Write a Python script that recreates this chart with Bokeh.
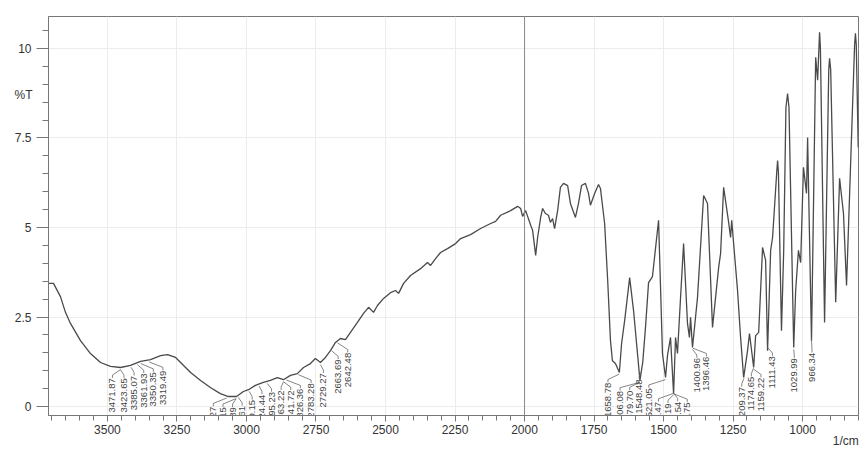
import numpy as np
from bokeh.plotting import figure
from bokeh.models import (Range1d, FixedTicker, CustomJSTickFormatter, Span, ColumnDataSource,
                          LinearAxis)
from bokeh.core.properties import value
from bokeh.embed import file_html
from bokeh.resources import INLINE

# ---- data ----
wavenumber = [3710, 3694, 3669, 3651, 3633, 3597, 3561, 3525, 3489, 3453, 3417, 3381, 3345, 3309, 3284,
              3255, 3237, 3201, 3165, 3130, 3094, 3065, 3036, 3011, 2993, 2968, 2942, 2914, 2889, 2867,
              2842, 2817, 2795, 2770, 2752, 2734, 2716, 2698, 2680, 2662, 2644, 2626, 2601, 2579, 2561,
              2543, 2529, 2507, 2482, 2464, 2453, 2435, 2410, 2374, 2349, 2338, 2320, 2302, 2277, 2248,
              2230, 2194, 2158, 2122, 2104, 2086, 2050, 2025, 2014, 2007, 1996, 1978, 1971, 1960, 1953,
              1942, 1935, 1925, 1914, 1907, 1899, 1892, 1881, 1871, 1860, 1845, 1835, 1817, 1806, 1795,
              1781, 1770, 1763, 1748, 1734, 1727, 1712, 1701, 1691, 1684, 1673, 1659, 1651, 1640, 1622,
              1608, 1585, 1575, 1565, 1554, 1540, 1518, 1504, 1493, 1486, 1475, 1464, 1457, 1450, 1439,
              1428, 1414, 1407, 1403, 1396, 1378, 1356, 1342, 1324, 1302, 1295, 1284, 1266, 1259, 1255,
              1234, 1223, 1212, 1198, 1191, 1176, 1169, 1158, 1144, 1133, 1126, 1115, 1108, 1093, 1090,
              1087, 1076, 1068, 1060, 1054, 1049, 1032, 1025, 1015, 1007, 997, 986, 982, 968, 953,
              946, 939, 936, 921, 906, 903, 899, 881, 867, 853, 842, 813, 810, 807, 800]
transmittance = [3.44, 3.44, 3.07, 2.63, 2.32, 1.84, 1.48, 1.23, 1.12, 1.09, 1.15, 1.26, 1.31, 1.42, 1.45,
                 1.37, 1.23, 0.95, 0.73, 0.53, 0.36, 0.28, 0.28, 0.42, 0.47, 0.59, 0.67, 0.73, 0.81, 0.75,
                 0.87, 0.92, 1.09, 1.20, 1.34, 1.23, 1.37, 1.56, 1.79, 1.90, 1.87, 2.07, 2.35, 2.60, 2.77,
                 2.63, 2.82, 3.02, 3.18, 3.24, 3.16, 3.44, 3.66, 3.85, 4.02, 3.94, 4.13, 4.30, 4.41, 4.55,
                 4.69, 4.80, 4.97, 5.11, 5.17, 5.34, 5.47, 5.59, 5.53, 5.31, 5.47, 5.06, 4.92, 4.22, 4.72,
                 5.28, 5.53, 5.39, 5.34, 5.14, 5.25, 4.97, 5.47, 6.12, 6.23, 6.17, 5.67, 5.28, 5.67, 6.17,
                 6.23, 5.95, 5.62, 5.95, 6.20, 6.09, 5.11, 3.52, 1.84, 1.28, 1.20, 0.95, 1.76, 2.40, 3.60,
                 2.68, 0.73, 1.23, 2.21, 3.46, 3.63, 5.20, 1.48, 0.81, 1.42, 1.93, 0.36, 1.93, 1.48, 3.04,
                 4.55, 2.32, 1.93, 2.49, 1.65, 3.04, 5.89, 5.67, 2.21, 3.88, 4.27, 6.12, 5.14, 4.72, 5.20,
                 3.24, 1.93, 0.81, 1.56, 2.04, 1.09, 1.98, 2.07, 4.44, 4.08, 1.56, 4.36, 4.72, 6.55, 6.87,
                 6.55, 2.12, 4.36, 8.35, 8.74, 8.35, 1.65, 3.24, 4.36, 4.02, 6.68, 5.95, 7.51, 1.84, 9.75,
                 9.11, 10.45, 10.0, 2.35, 9.40, 9.72, 9.40, 2.91, 6.37, 5.39, 3.38, 10.1, 10.42, 10.1, 7.23]

peak_labels = [3471.87, 3423.65, 3385.07, 3361.93, 3350.35, 3319.49,
               3101.27, 3068.15, 3034.89, 2999.61, 2960.15, 2924.44, 2895.23, 2863.22, 2841.72,
               2826.36, 2783.28, 2729.27, 2663.69, 2642.48,
               1658.78, 1606.08, 1579.70, 1548.48, 1521.05, 1477.47, 1458.19, 1448.54, 1442.75,
               1400.96, 1396.46, 1209.37, 1174.65, 1159.22, 1111.43, 1029.99, 966.34]

x_ticks = [3500, 3250, 3000, 2750, 2500, 2250, 2000, 1750, 1500, 1250, 1000]
y_ticks = [0, 2.5, 5, 7.5, 10]
y_title = "%T"
x_title = "1/cm"

X_LEFT, X_RIGHT = 3712, 799
Y_BOT, Y_TOP = -0.25, 10.89

p = figure(width=864, height=451, x_range=Range1d(X_LEFT, X_RIGHT), y_range=Range1d(Y_BOT, Y_TOP),
           output_backend="svg", toolbar_location=None,
           min_border_left=48, min_border_right=6, min_border_top=16, min_border_bottom=36)
p.background_fill_color = "white"
p.border_fill_color = "white"
p.outline_line_color = "#777777"
p.outline_line_width = 1

FONT = "Liberation Sans"
for ax in (p.xaxis[0], p.yaxis[0]):
    ax.axis_line_color = "#777777"
    ax.major_tick_line_color = "#777777"
    ax.minor_tick_line_color = "#777777"
    ax.major_label_text_font = FONT
    ax.major_label_text_font_size = "12px"
    ax.major_label_text_color = "#333333"
    ax.major_tick_in = 0
    ax.minor_tick_in = 0

p.xaxis.ticker = FixedTicker(ticks=x_ticks, minor_ticks=list(range(800, 3701, 50)))
p.yaxis.ticker = FixedTicker(ticks=y_ticks, minor_ticks=[i * 0.5 for i in range(0, 22)])
p.xaxis.major_tick_out = 6
p.xaxis.minor_tick_out = 5
p.xaxis.major_label_standoff = 3
p.yaxis.major_tick_out = 12
p.yaxis.minor_tick_out = 6
p.yaxis.major_label_standoff = 5
p.yaxis.formatter = CustomJSTickFormatter(code="return String(tick);")

def title_axis(tick, text, standoff):
    return LinearAxis(ticker=FixedTicker(ticks=[tick]), axis_line_color=None, major_tick_line_color=None,
                      minor_tick_line_color=None, major_label_standoff=standoff,
                      major_label_overrides={tick: text}, major_label_text_font=FONT,
                      major_label_text_font_size="12px", major_label_text_color="#333333")

# unit labels as tick-less extra axes
p.add_layout(title_axis(845, x_title, -9), "below")
p.add_layout(title_axis(8.7, y_title, -27), "left")

p.xgrid.ticker = FixedTicker(ticks=x_ticks)
p.ygrid.ticker = FixedTicker(ticks=y_ticks)
p.xgrid.grid_line_color = "#ececec"
p.ygrid.grid_line_color = "#ececec"

p.add_layout(Span(location=2000, dimension="height", line_color="#8a8a8a", line_width=1))

p.line(wavenumber, transmittance, line_color="#4a4a4a", line_width=1.3)

# ---- peak labels with leader lines ----
wn_arr = np.array(wavenumber, dtype=float)
t_arr = np.array(transmittance, dtype=float)
inc_w, inc_t = wn_arr[::-1], t_arr[::-1]

def curve_min(w, half=30):
    ws = np.linspace(w - half, w + half, 61)
    vals = np.interp(ws, inc_w, inc_t)
    i = int(np.argmin(vals))
    return float(ws[i]), float(vals[i])

order = sorted(peak_labels, reverse=True)
u = [-v for v in order]
gap = 34.5
fwd = []
for val in u:
    fwd.append(val if not fwd else max(val, fwd[-1] + gap))
bwd = [0.0] * len(u)
for i in range(len(u) - 1, -1, -1):
    bwd[i] = u[i] if i == len(u) - 1 else min(u[i], bwd[i + 1] - gap)
pos = [-(a + b) / 2 for a, b in zip(fwd, bwd)]

lx, ly, ltxt, xs, ys = [], [], [], [], []
for v, lp in zip(order, pos):
    wm, tm = curve_min(v)
    top = min(tm - 0.3, 1.5)
    lx.append(lp)
    ly.append(top)
    ltxt.append(f"{v:.2f}")
    xs.append([wm, lp, lp])
    ys.append([tm - 0.06, top + 0.09, top + 0.01])

p.multi_line(xs, ys, line_color="#666666", line_width=0.8)
src = ColumnDataSource(dict(x=lx, y=ly, t=ltxt))
p.text("x", "y", text="t", source=src, angle=np.pi / 2, text_align="right", text_baseline="middle",
       text_font=value(FONT), text_font_size="9.5px", text_color="#444444")

open("out.html", "w").write(file_html(p, INLINE))
